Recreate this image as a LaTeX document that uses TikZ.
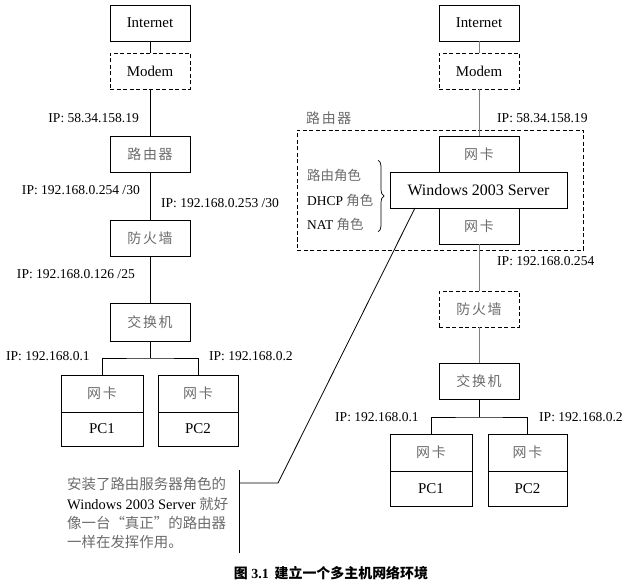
\documentclass[tikz,border=0pt]{standalone}
\usepackage{fontspec}
\setmainfont{Liberation Serif}
\newfontfamily\cjk{Noto Sans CJK SC}
\newfontfamily\cjksp{Noto Sans CJK SC}[LetterSpace=12]
\usetikzlibrary{decorations.pathreplacing}
\definecolor{cg}{gray}{0.42}
\definecolor{lg}{gray}{0.5}
\begin{document}
\begin{tikzpicture}[x=1bp,y=-1bp,
  box/.style={draw, line width=0.8bp, minimum width=80bp, minimum height=36bp, inner sep=0pt, font=\fontsize{15}{18}\selectfont},
  dbox/.style={box, dash pattern=on 4bp off 2.5bp},
  zh/.style={text=cg, font=\cjksp\fontsize{14}{17}\selectfont},
  ip/.style={inner sep=0pt, font=\fontsize{13.6}{16}\selectfont},
  role/.style={inner sep=0pt, anchor=west, text=cg, font=\fontsize{13.5}{16}\selectfont},
  ann/.style={inner sep=0pt, anchor=west, text=cg, font=\fontsize{14.5}{17}\selectfont},
  conn/.style={line width=0.8bp},
  gconn/.style={line width=0.9bp, draw=lg}]
\useasboundingbox (0,0) rectangle (630,584);

% ---------- left column ----------
\node[box] (inetL) at (150,23) {Internet};
\node[dbox] (modemL) at (150,71) {Modem};
\node[box,zh] (rtL) at (150,154.5) {路由器};
\node[box,zh] (fwL) at (150,238) {防火墙};
\node[box,zh,minimum height=38bp] (swL) at (150,322) {交换机};
\node[box,zh,minimum width=82bp,minimum height=37bp] (nicL1) at (102,393.5) {网卡};
\node[box,minimum width=82bp,minimum height=34bp] (pcL1) at (102,429) {PC1};
\node[box,zh,minimum height=37bp] (nicL2) at (198,393.5) {网卡};
\node[box,minimum height=34bp] (pcL2) at (198,429) {PC2};

\draw[conn] (inetL) -- (modemL);
\draw[conn] (modemL) -- (rtL);
\draw[conn] (rtL) -- (fwL);
\draw[conn] (fwL) -- (swL);
\coordinate (busL) at (150,358);
\draw[conn] (swL.south) -- (busL);
\draw[conn] (nicL1.north) |- (busL) -| (nicL2.north);

\node[ip,anchor=east] (ipL1) at (139,118) {IP: 58.34.158.19};
\node[ip,anchor=east] (ipL2) at (140,190) {IP: 192.168.0.254 /30};
\node[ip,anchor=west] (ipL3) at (161,203) {IP: 192.168.0.253 /30};
\node[ip,anchor=east] (ipL4) at (135,274.5) {IP: 192.168.0.126 /25};
\node[ip,anchor=west] (ipL5) at (6,356) {IP: 192.168.0.1};
\node[ip,anchor=west] (ipL6) at (209,356) {IP: 192.168.0.2};

% ---------- right column ----------
\node[box] (inetR) at (479,23) {Internet};
\node[dbox] (modemR) at (479,71) {Modem};
\node[draw, line width=0.8bp, dash pattern=on 4bp off 2.5bp, minimum width=286bp, minimum height=120bp, inner sep=0pt] (rtbox) at (440,190) {};
\node[inner sep=0pt, anchor=west, text=cg, font=\cjksp\fontsize{14}{17}\selectfont] (rtlabel) at (306,118) {路由器};
\node[box,zh] (nicR1) at (479,154) {网卡};
\node[box,zh] (nicR2) at (479,226) {网卡};
\node[box,fill=white,minimum width=177bp,font=\fontsize{16}{19}\selectfont] (winR) at (478.5,190) {Windows 2003 Server};
\node[dbox,zh] (fwR) at (479,309) {防火墙};
\node[box,zh] (swR) at (479,381) {交换机};
\node[box,zh,minimum width=82bp,minimum height=37bp] (nicR3) at (431,452.5) {网卡};
\node[box,minimum width=82bp,minimum height=35bp] (pcR1) at (431,488.5) {PC1};
\node[box,zh,minimum width=79bp,minimum height=37bp] (nicR4) at (527.5,452.5) {网卡};
\node[box,minimum width=79bp,minimum height=35bp] (pcR2) at (527.5,488.5) {PC2};

\draw[gconn] (inetR) -- (modemR);
\draw[gconn] (modemR) -- (nicR1);
\draw[gconn] (nicR2) -- (fwR);
\draw[gconn] (fwR) -- (swR);
\coordinate (busR) at (479,417);
\draw[conn] (swR.south) -- (busR);
\draw[conn] (nicR3.north) |- (busR) -| (nicR4.north);

\node[ip,anchor=west] (ipR1) at (497,118) {IP: 58.34.158.19};
\node[ip,anchor=west] (ipR2) at (497,261) {IP: 192.168.0.254};
\node[ip,anchor=west] (ipR3) at (335,417) {IP: 192.168.0.1};
\node[ip,anchor=west] (ipR4) at (539,417) {IP: 192.168.0.2};

% roles
\node[role] (role1) at (307,175) {\cjk 路由角色};
\node[role] (role2) at (307,200) {\textcolor{black}{DHCP} {\cjk 角色}};
\node[role] (role3) at (307,224) {\textcolor{black}{NAT} {\cjk 角色}};
\draw[line width=0.7bp, decorate, decoration={brace, amplitude=6bp}] (378,160) -- (378,232);

% annotation
\node[ann] (ann1) at (67,484) {\cjk 安装了路由服务器角色的};
\node[ann] (ann2) at (67,504) {\textcolor{black}{Windows 2003 Server} {\cjk 就好}};
\node[ann] (ann3) at (67,523) {\cjk 像一台“真正”的路由器};
\node[ann] (ann4) at (67,542) {\cjk 一样在发挥作用。};
\coordinate (vtop) at (239,470);
\coordinate (vbot) at (239,553);
\coordinate (hmid) at (239,483);
\coordinate (bend) at (278,483);
\coordinate (wtip) at (415,208);
\draw[conn] (vtop) -- (vbot);
\draw[conn] (hmid) -- (bend) -- (wtip);

% caption
\node[inner sep=0pt, font=\fontsize{14}{17}\selectfont\bfseries] (cap) at (331,573) {{\cjk 图} 3.1\, {\cjk 建立一个多主机网络环境}};
\end{tikzpicture}
\end{document}
